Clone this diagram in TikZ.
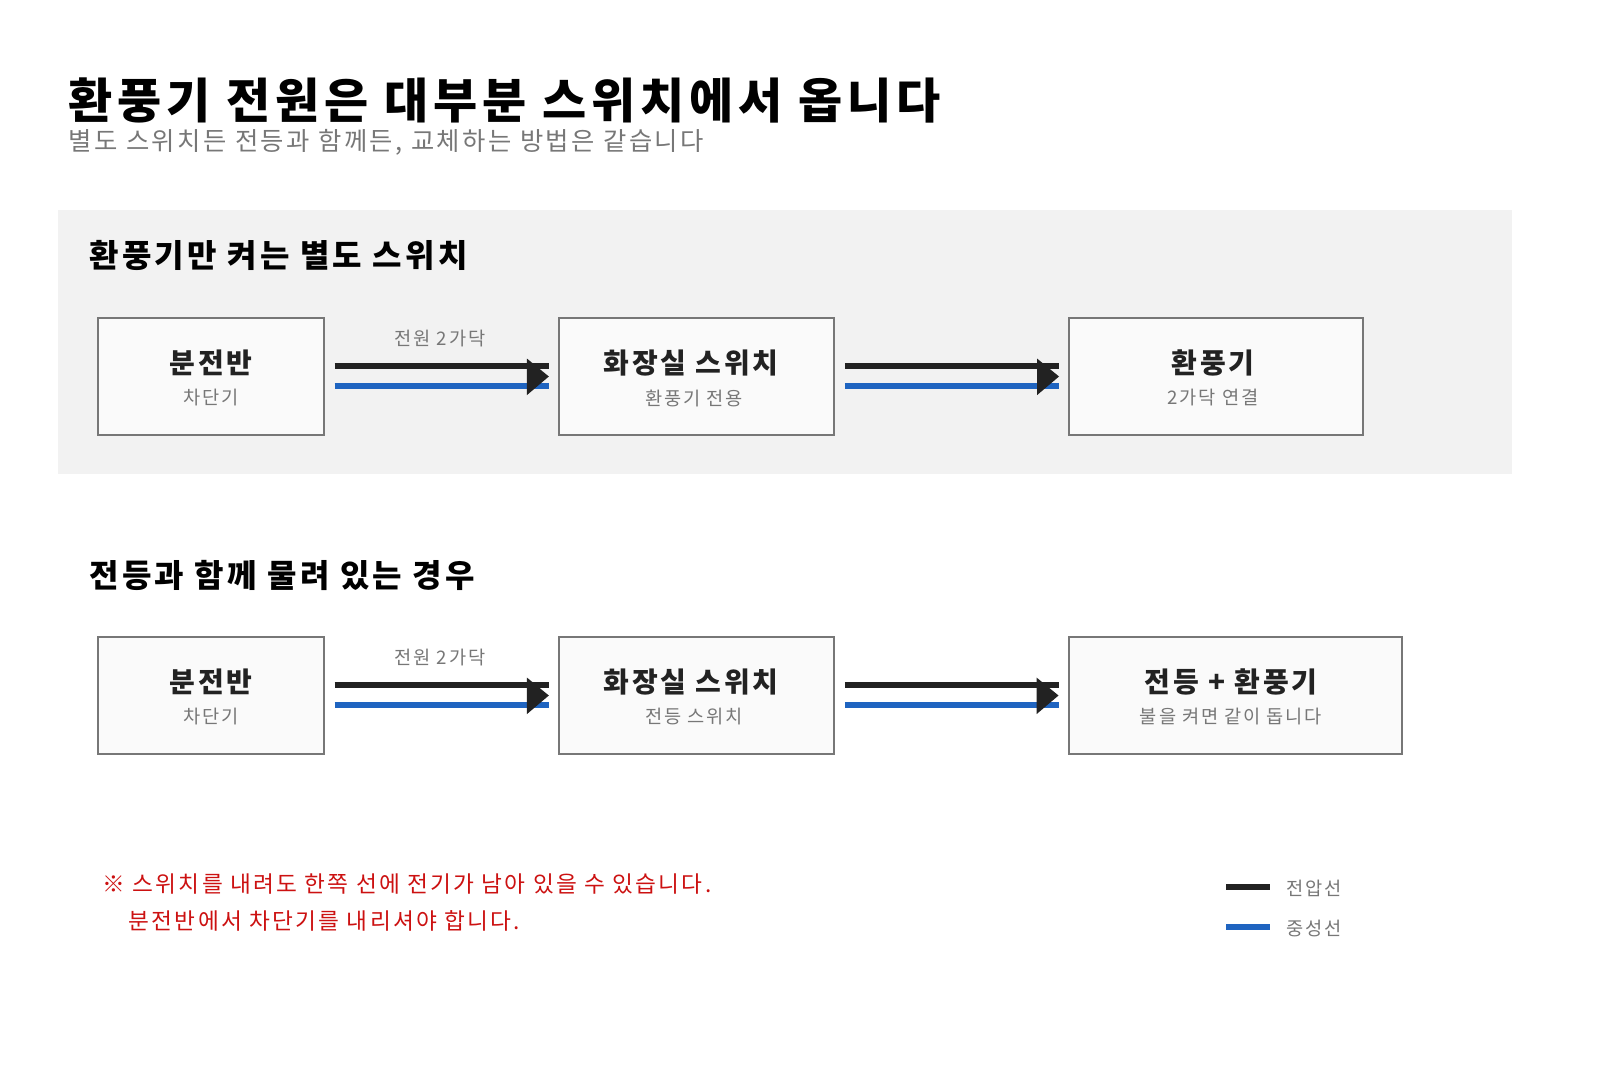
\documentclass[tikz,border=0pt]{standalone}
\usepackage{fontspec}
\setmainfont[LetterSpace=10]{Noto Sans CJK KR}
\usetikzlibrary{positioning}
\definecolor{volt}{HTML}{222222}
\definecolor{neut}{HTML}{1F64C0}
\definecolor{subg}{HTML}{777777}
\definecolor{warn}{HTML}{CC1111}
\newcommand{\fs}[1]{\fontsize{#1}{#1}\selectfont}
\tikzset{
  box/.style={draw=subg, line width=1.5pt, fill=gray!4, minimum height=88pt, inner sep=0pt},
  boxt/.style={font=\fs{21}\bfseries, text=volt},
  boxs/.style={font=\fs{14}, text=subg},
  hot/.style={draw=volt, line width=4pt},
  cold/.style={draw=neut, line width=4pt},
  lbl/.style={font=\fs{14}, text=subg},
}
\newcommand{\wire}[2]{%
  \draw[hot] ([xshift=7.5pt,yshift=7.9pt]#1.east) -- ([xshift=-7pt,yshift=7.9pt]#2.west);%
  \draw[cold] ([xshift=7.5pt,yshift=-7.1pt]#1.east) -- ([xshift=-7pt,yshift=-7.1pt]#2.west);%
  \fill[volt] ([xshift=-23.5pt,yshift=13.5pt]#2.west) -- ([xshift=-7pt]#2.west) -- ([xshift=-23.5pt,yshift=-14pt]#2.west) -- cycle;%
}
\begin{document}
\begin{tikzpicture}[x=0.75pt,y=-0.75pt]
\fill[white] (0,0) rectangle (1600,1067);
% title
\node[anchor=west, font=\fs{36}\bfseries, text=black] (title) at (64,100) {환풍기 전원은 대부분 스위치에서 옵니다};
\node[anchor=west, font=\fs{19}, text=subg] (sub) at (64,142) {별도 스위치든 전등과 함께든, 교체하는 방법은 같습니다};
% panel 1
\fill[gray!10] (58,210) rectangle (1512,474);
\node[anchor=west, font=\fs{24}\bfseries] (h1) at (85,255) {환풍기만 켜는 별도 스위치};
\node[box, minimum width=169pt] (pan1) at (211,376.5) {};
\node[box, minimum width=206pt] (sw1) at (696.5,376.5) {};
\node[box, minimum width=220pt] (fan1) at (1216,376.5) {};
\node[boxt] at (211,363) {분전반};
\node[boxs] at (211,398) {차단기};
\node[boxt] at (691,363) {화장실 스위치};
\node[boxs] at (694,398) {환풍기 전용};
\node[boxt] at (1213,363) {환풍기};
\node[boxs] at (1213,398) {2가닥 연결};
\wire{pan1}{sw1}
\wire{sw1}{fan1}
\node[lbl] at (440,339) {전원 2가닥};
% panel 2
\node[anchor=west, font=\fs{24}\bfseries] (h2) at (85,575) {전등과 함께 물려 있는 경우};
\node[box, minimum width=169pt] (pan2) at (211,695.5) {};
\node[box, minimum width=206pt] (sw2) at (696.5,695.5) {};
\node[box, minimum width=250pt] (fan2) at (1235.5,695.5) {};
\node[boxt] at (211,682) {분전반};
\node[boxs] at (211,717) {차단기};
\node[boxt] at (691,682) {화장실 스위치};
\node[boxs] at (694,717) {전등 스위치};
\node[boxt] at (1231,682) {전등 + 환풍기};
\node[boxs] at (1231,717) {불을 켜면 같이 돕니다};
\wire{pan2}{sw2}
\wire{sw2}{fan2}
\node[lbl] at (440,658) {전원 2가닥};
% note
\node[anchor=west, font=\fs{17}, text=warn] (n1) at (98,884) {※ 스위치를 내려도 한쪽 선에 전기가 남아 있을 수 있습니다.};
\node[anchor=west, font=\fs{17}, text=warn] (n2) at (124,921) {분전반에서 차단기를 내리셔야 합니다.};
% legend
\coordinate (l1) at (1226,887); \coordinate (l2) at (1226,927);
\draw[hot] (l1) -- ++(44,0);
\draw[cold] (l2) -- ++(44,0);
\node[anchor=west, lbl] at (1282,888) {전압선};
\node[anchor=west, lbl] at (1282,928) {중성선};
\pgfresetboundingbox
\useasboundingbox (0,0) rectangle (1600,1067);
\end{tikzpicture}
\end{document}
